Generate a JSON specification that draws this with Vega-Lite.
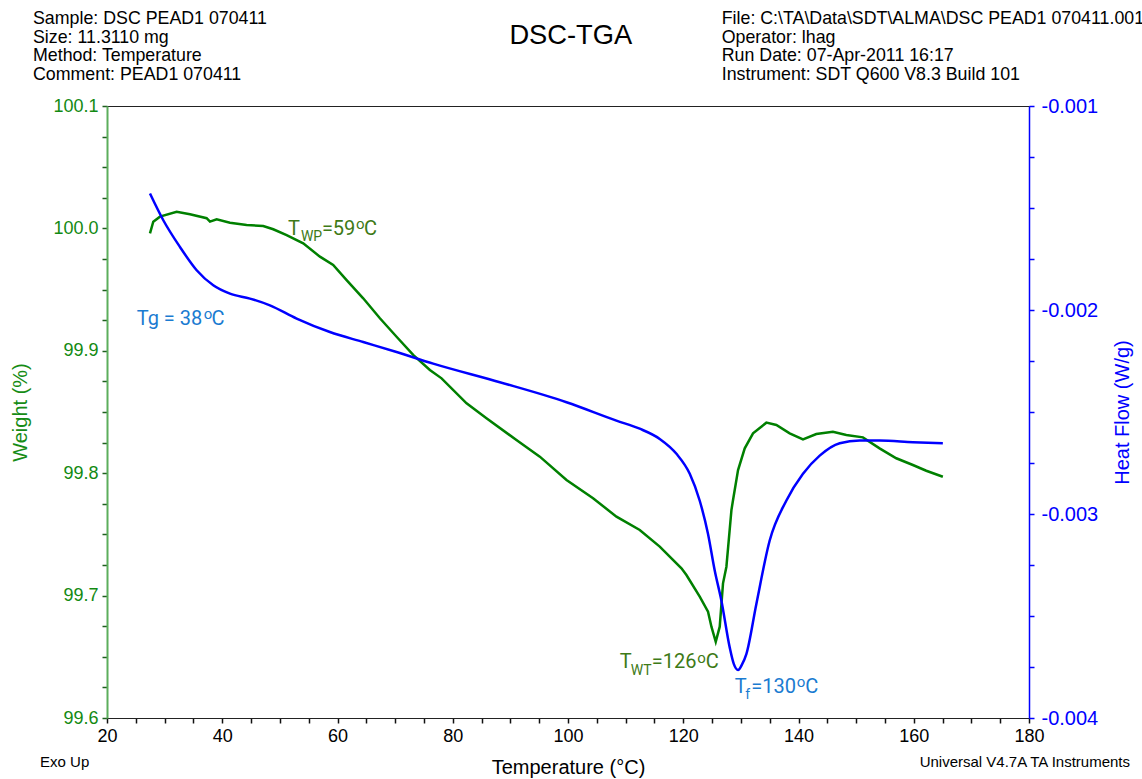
{
  "$schema": "https://vega.github.io/schema/vega-lite/v6.json",
  "width": 922,
  "height": 612,
  "autosize": {"type": "none"},
  "padding": {"left": 107, "top": 106, "right": 113, "bottom": 61},
  "background": "white",
  "config": {"view": {"stroke": "#222222", "strokeWidth": 1}, "font": "Liberation Sans"},
  "datasets": {
    "weight": [
      {"T": 27.46, "W": 99.996}, {"T": 28.03, "W": 100.0055}, {"T": 29.19, "W": 100.0096}, {"T": 32.09, "W": 100.0136},
      {"T": 34.40, "W": 100.0115}, {"T": 37.29, "W": 100.0083}, {"T": 37.87, "W": 100.0055}, {"T": 39.03, "W": 100.0074},
      {"T": 41.34, "W": 100.0047}, {"T": 44.23, "W": 100.0028}, {"T": 47.11, "W": 100.0020}, {"T": 48.85, "W": 99.9993},
      {"T": 51.17, "W": 99.9946}, {"T": 54.05, "W": 99.9878}, {"T": 56.95, "W": 99.9769}, {"T": 59.25, "W": 99.9701},
      {"T": 61.58, "W": 99.9578}, {"T": 64.46, "W": 99.9429}, {"T": 67.36, "W": 99.9266}, {"T": 70.25, "W": 99.9115},
      {"T": 73.13, "W": 99.8966}, {"T": 76.03, "W": 99.8843}, {"T": 78.06, "W": 99.8775}, {"T": 82.40, "W": 99.8571},
      {"T": 85.85, "W": 99.8449}, {"T": 91.05, "W": 99.8271}, {"T": 95.11, "W": 99.8135}, {"T": 99.74, "W": 99.7944},
      {"T": 104.35, "W": 99.7795}, {"T": 108.41, "W": 99.7645}, {"T": 112.45, "W": 99.7536}, {"T": 115.92, "W": 99.7400},
      {"T": 119.69, "W": 99.7223}, {"T": 120.55, "W": 99.7168}, {"T": 122.86, "W": 99.6991}, {"T": 124.30, "W": 99.6868},
      {"T": 124.89, "W": 99.6746}, {"T": 125.64, "W": 99.6623}, {"T": 126.33, "W": 99.6746}, {"T": 126.90, "W": 99.7100},
      {"T": 127.49, "W": 99.7236}, {"T": 128.36, "W": 99.7699}, {"T": 128.64, "W": 99.7781}, {"T": 129.51, "W": 99.8026},
      {"T": 130.67, "W": 99.8203}, {"T": 132.11, "W": 99.8326}, {"T": 134.42, "W": 99.8413}, {"T": 136.16, "W": 99.8394},
      {"T": 138.47, "W": 99.8326}, {"T": 140.78, "W": 99.8277}, {"T": 143.09, "W": 99.8320}, {"T": 145.97, "W": 99.8339},
      {"T": 148.30, "W": 99.8312}, {"T": 151.18, "W": 99.8293}, {"T": 154.07, "W": 99.8203}, {"T": 156.97, "W": 99.8122},
      {"T": 159.85, "W": 99.8067}, {"T": 162.17, "W": 99.8020}, {"T": 165.05, "W": 99.7971}
    ],
    "heat": [
      {"T": 27.46, "H": -0.001429}, {"T": 29.77, "H": -0.001560}, {"T": 32.66, "H": -0.001691}, {"T": 35.56, "H": -0.001805},
      {"T": 38.44, "H": -0.001879}, {"T": 41.34, "H": -0.001920}, {"T": 44.81, "H": -0.001944}, {"T": 48.27, "H": -0.001977},
      {"T": 52.91, "H": -0.002042}, {"T": 58.68, "H": -0.002108}, {"T": 64.46, "H": -0.002157}, {"T": 70.25, "H": -0.002206},
      {"T": 76.60, "H": -0.002263}, {"T": 88.17, "H": -0.002354}, {"T": 99.74, "H": -0.002452}, {"T": 108.40, "H": -0.002542},
      {"T": 112.45, "H": -0.002582}, {"T": 115.92, "H": -0.002632}, {"T": 118.82, "H": -0.002705}, {"T": 121.13, "H": -0.002803},
      {"T": 122.86, "H": -0.002935}, {"T": 124.30, "H": -0.003098}, {"T": 125.47, "H": -0.003278}, {"T": 126.63, "H": -0.003426},
      {"T": 128.07, "H": -0.003655}, {"T": 128.77, "H": -0.003735}, {"T": 129.51, "H": -0.003765}, {"T": 130.16, "H": -0.003740},
      {"T": 130.95, "H": -0.003687}, {"T": 132.68, "H": -0.003442}, {"T": 134.99, "H": -0.003131}, {"T": 137.88, "H": -0.002935},
      {"T": 140.78, "H": -0.002803}, {"T": 143.68, "H": -0.002714}, {"T": 147.15, "H": -0.002653}, {"T": 150.62, "H": -0.002640},
      {"T": 154.09, "H": -0.002640}, {"T": 159.86, "H": -0.002648}, {"T": 165.05, "H": -0.002653}
    ],
    "annot": [
      {"t": "T", "T": 51.40, "W": 99.9946, "role": "main", "g": "green"},
      {"t": "WP", "T": 53.65, "W": 99.9897, "role": "sub", "g": "green"},
      {"t": "=59", "T": 57.29, "W": 99.9946, "role": "main", "g": "green"},
      {"t": "o", "T": 63.19, "W": 99.9993, "role": "sup", "g": "green"},
      {"t": "C", "T": 64.58, "W": 99.9946, "role": "main", "g": "green"},
      {"t": "Tg = 38", "T": 25.15, "W": 99.9211, "role": "main", "g": "blue"},
      {"t": "o", "T": 36.81, "W": 99.9257, "role": "sup", "g": "blue"},
      {"t": "C", "T": 38.12, "W": 99.9211, "role": "main", "g": "blue"},
      {"t": "T", "T": 108.99, "W": 99.6406, "role": "main", "g": "green"},
      {"t": "WT", "T": 110.89, "W": 99.6351, "role": "sub", "g": "green"},
      {"t": "=126", "T": 114.54, "W": 99.6406, "role": "main", "g": "green"},
      {"t": "o", "T": 122.43, "W": 99.6452, "role": "sup", "g": "green"},
      {"t": "C", "T": 123.90, "W": 99.6406, "role": "main", "g": "green"},
      {"t": "T", "T": 128.93, "W": 99.6207, "role": "main", "g": "blue"},
      {"t": "f", "T": 130.74, "W": 99.6155, "role": "sub", "g": "blue"},
      {"t": "=130", "T": 131.82, "W": 99.6207, "role": "main", "g": "blue"},
      {"t": "o", "T": 139.69, "W": 99.6253, "role": "sup", "g": "blue"},
      {"t": "C", "T": 141.16, "W": 99.6207, "role": "main", "g": "blue"}
    ],
    "notes": [
      {"text": "Sample: DSC PEAD1 070411\nSize:  11.3110 mg\nMethod: Temperature\nComment: PEAD1 070411", "T": 7.16, "W": 100.167, "kind": "header"},
      {"text": "File: C:\\TA\\Data\\SDT\\ALMA\\DSC PEAD1 070411.001\nOperator: lhag\nRun Date: 07-Apr-2011 16:17\nInstrument: SDT Q600 V8.3 Build 101", "T": 126.68, "W": 100.167, "kind": "header"},
      {"text": "DSC-TGA", "T": 100.49, "W": 100.1507, "kind": "title"},
      {"text": "Exo Up", "T": 8.38, "W": 99.56, "kind": "footer"},
      {"text": "Universal V4.7A TA Instruments", "T": 161.02, "W": 99.56, "kind": "footer"}
    ]
  },
  "layer": [
    {
      "data": {"name": "weight"},
      "mark": {"type": "line", "color": "#008000", "strokeWidth": 2.5},
      "encoding": {
        "x": {
          "field": "T", "type": "quantitative",
          "scale": {"domain": [20, 180], "nice": false, "zero": false},
          "axis": {
            "title": "Temperature (°C)", "titleFontSize": 20, "titleFontWeight": "normal", "titleColor": "#000000",
            "titlePadding": 12, "titleFont": "Liberation Sans",
            "values": [20,25,30,35,40,45,50,55,60,65,70,75,80,85,90,95,100,105,110,115,120,125,130,135,140,145,150,155,160,165,170,175,180],
            "labelExpr": "datum.value % 20 === 0 ? datum.label : ''",
            "labelFontSize": 18, "labelColor": "#000000", "labelFlush": false, "labelOverlap": false, "labelBound": false,
            "labelPadding": 4, "labelFont": "Liberation Sans",
            "ticks": true, "tickOpacity": 1, "tickSize": 5,
            "tickColor": "#111111", "domainColor": "#222222", "domainWidth": 1.2, "tickWidth": 1.5, "grid": false
          }
        },
        "y": {
          "field": "W", "type": "quantitative",
          "scale": {"domain": [99.6, 100.1], "nice": false, "zero": false},
          "axis": {
            "orient": "left", "title": "Weight (%)", "titleFontSize": 20, "titleFontWeight": "normal", "titleColor": "#168c16",
            "titlePadding": 22, "titleFont": "Liberation Sans",
            "values": [99.6,99.625,99.65,99.675,99.7,99.725,99.75,99.775,99.8,99.825,99.85,99.875,99.9,99.925,99.95,99.975,100,100.025,100.05,100.075,100.1],
            "labelExpr": "abs(datum.value*10 - round(datum.value*10)) < 0.001 ? format(datum.value, '.1f') : ''",
            "labelFontSize": 18, "labelColor": "#128a12", "labelOverlap": false, "labelBound": false, "labelFlush": false,
            "labelPadding": 4, "labelFont": "Liberation Sans",
            "ticks": true, "tickOpacity": 1, "tickSize": 5, "tickColor": "#1f5f1f", "tickWidth": 1.5,
            "domainColor": "#5cae5c", "domainWidth": 2, "grid": false
          }
        }
      }
    },
    {
      "data": {"name": "heat"},
      "mark": {"type": "line", "color": "#0000ff", "strokeWidth": 2.5, "interpolate": "monotone"},
      "encoding": {
        "x": {"field": "T", "type": "quantitative", "scale": {"domain": [20, 180], "nice": false, "zero": false}, "axis": null},
        "y": {
          "field": "H", "type": "quantitative",
          "scale": {"domain": [-0.004, -0.001], "nice": false, "zero": false},
          "axis": {
            "orient": "right", "title": "Heat Flow (W/g)", "titleFontSize": 20, "titleFontWeight": "normal", "titleColor": "#0000ff",
            "titleAngle": 270, "titlePadding": 35, "titleFont": "Liberation Sans",
            "values": [-0.004,-0.00375,-0.0035,-0.00325,-0.003,-0.00275,-0.0025,-0.00225,-0.002,-0.00175,-0.0015,-0.00125,-0.001],
            "labelExpr": "abs(datum.value*1000 - round(datum.value*1000)) < 0.001 ? replace(format(datum.value, '.3f'), '−', '-') : ''",
            "labelFontSize": 20, "labelColor": "#0000ff", "labelOverlap": false, "labelBound": false, "labelFlush": false,
            "labelPadding": 7, "labelFont": "Liberation Sans",
            "ticks": true, "tickOpacity": 1, "tickSize": 5, "tickColor": "#0000ff", "tickWidth": 1.5,
            "domainColor": "#0000ff", "domainWidth": 1.5, "grid": false
          }
        }
      }
    },
    {
      "data": {"name": "annot"},
      "transform": [{"filter": "datum.role === 'main'"}],
      "mark": {"type": "text", "align": "left", "baseline": "alphabetic", "font": "Roboto", "fontSize": 20},
      "encoding": {
        "x": {"field": "T", "type": "quantitative", "scale": {"domain": [20, 180], "nice": false, "zero": false}, "axis": null},
        "y": {"field": "W", "type": "quantitative", "scale": {"domain": [99.6, 100.1], "nice": false, "zero": false}, "axis": null},
        "text": {"field": "t"},
        "color": {"field": "g", "type": "nominal", "scale": {"domain": ["green", "blue"], "range": ["#3e7a17", "#1a7bd1"]}, "legend": null}
      }
    },
    {
      "data": {"name": "annot"},
      "transform": [{"filter": "datum.role === 'sub'"}],
      "mark": {"type": "text", "align": "left", "baseline": "alphabetic", "font": "Roboto", "fontSize": 14},
      "encoding": {
        "x": {"field": "T", "type": "quantitative", "scale": {"domain": [20, 180], "nice": false, "zero": false}, "axis": null},
        "y": {"field": "W", "type": "quantitative", "scale": {"domain": [99.6, 100.1], "nice": false, "zero": false}, "axis": null},
        "text": {"field": "t"},
        "color": {"field": "g", "type": "nominal", "scale": {"domain": ["green", "blue"], "range": ["#3e7a17", "#1a7bd1"]}, "legend": null}
      }
    },
    {
      "data": {"name": "annot"},
      "transform": [{"filter": "datum.role === 'sup'"}],
      "mark": {"type": "text", "align": "left", "baseline": "alphabetic", "font": "Roboto", "fontSize": 15},
      "encoding": {
        "x": {"field": "T", "type": "quantitative", "scale": {"domain": [20, 180], "nice": false, "zero": false}, "axis": null},
        "y": {"field": "W", "type": "quantitative", "scale": {"domain": [99.6, 100.1], "nice": false, "zero": false}, "axis": null},
        "text": {"field": "t"},
        "color": {"field": "g", "type": "nominal", "scale": {"domain": ["green", "blue"], "range": ["#3e7a17", "#1a7bd1"]}, "legend": null}
      }
    },
    {
      "data": {"name": "notes"},
      "transform": [{"filter": "datum.kind === 'header'"}],
      "mark": {"type": "text", "align": "left", "baseline": "alphabetic", "font": "Liberation Sans", "fontSize": 17.8, "lineHeight": 18.7, "lineBreak": "\n", "color": "#000000"},
      "encoding": {
        "x": {"field": "T", "type": "quantitative", "scale": {"domain": [20, 180], "nice": false, "zero": false}, "axis": null},
        "y": {"field": "W", "type": "quantitative", "scale": {"domain": [99.6, 100.1], "nice": false, "zero": false}, "axis": null},
        "text": {"field": "text"}
      }
    },
    {
      "data": {"name": "notes"},
      "transform": [{"filter": "datum.kind === 'title'"}],
      "mark": {"type": "text", "align": "center", "baseline": "alphabetic", "font": "Liberation Sans", "fontSize": 27.3, "color": "#000000"},
      "encoding": {
        "x": {"field": "T", "type": "quantitative", "scale": {"domain": [20, 180], "nice": false, "zero": false}, "axis": null},
        "y": {"field": "W", "type": "quantitative", "scale": {"domain": [99.6, 100.1], "nice": false, "zero": false}, "axis": null},
        "text": {"field": "text"}
      }
    },
    {
      "data": {"name": "notes"},
      "transform": [{"filter": "datum.kind === 'footer'"}],
      "mark": {"type": "text", "align": "left", "baseline": "alphabetic", "font": "Liberation Sans", "fontSize": 15, "color": "#000000"},
      "encoding": {
        "x": {"field": "T", "type": "quantitative", "scale": {"domain": [20, 180], "nice": false, "zero": false}, "axis": null},
        "y": {"field": "W", "type": "quantitative", "scale": {"domain": [99.6, 100.1], "nice": false, "zero": false}, "axis": null},
        "text": {"field": "text"}
      }
    }
  ],
  "resolve": {"scale": {"x": "independent", "y": "independent"}}
}
